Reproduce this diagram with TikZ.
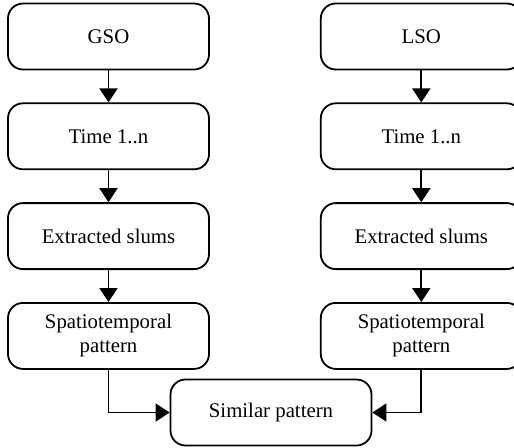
\documentclass[tikz,border=0pt]{standalone}
\usepackage{fontspec}
\setmainfont{Liberation Serif}
\usepackage{tikz}
\usetikzlibrary{arrows.meta, positioning}

\begin{document}
\begin{tikzpicture}[
    >={Triangle[length=7pt, width=9pt]},
    box/.style={draw, line width=0.9pt, rounded corners=7.5pt, minimum width=100.5pt,
        minimum height=33pt, align=center, font=\fontsize{10.4}{12}\selectfont},
    flow/.style={->, line width=0.9pt},
]
    \useasboundingbox (0pt,0pt) rectangle (257pt,-223.5pt);

    % left column
    \node[box] (gso) at (54.25pt,-18.25pt) {GSO};
    \node[box, below=16pt of gso] (time1) {Time 1..n};
    \node[box, below=16pt of time1] (slum1) {Extracted slums};
    \node[box, below=16pt of slum1] (pat1) {Spatiotemporal\\pattern};

    % right column
    \node[box, right=55pt of gso] (lso) {LSO};
    \node[box, below=16pt of lso] (time2) {Time 1..n};
    \node[box, below=16pt of time2] (slum2) {Extracted slums};
    \node[box, below=16pt of slum2] (pat2) {Spatiotemporal\\pattern};

    \node[box] (sim) at (135.5pt,-206.25pt) {Similar pattern};

    \draw[flow] (gso) -- (time1);
    \draw[flow] (time1) -- (slum1);
    \draw[flow] (slum1) -- (pat1);
    \draw[flow] (lso) -- (time2);
    \draw[flow] (time2) -- (slum2);
    \draw[flow] (slum2) -- (pat2);
    \draw[flow] (pat1) |- (sim);
    \draw[flow] (pat2) |- (sim);
\end{tikzpicture}
\end{document}
